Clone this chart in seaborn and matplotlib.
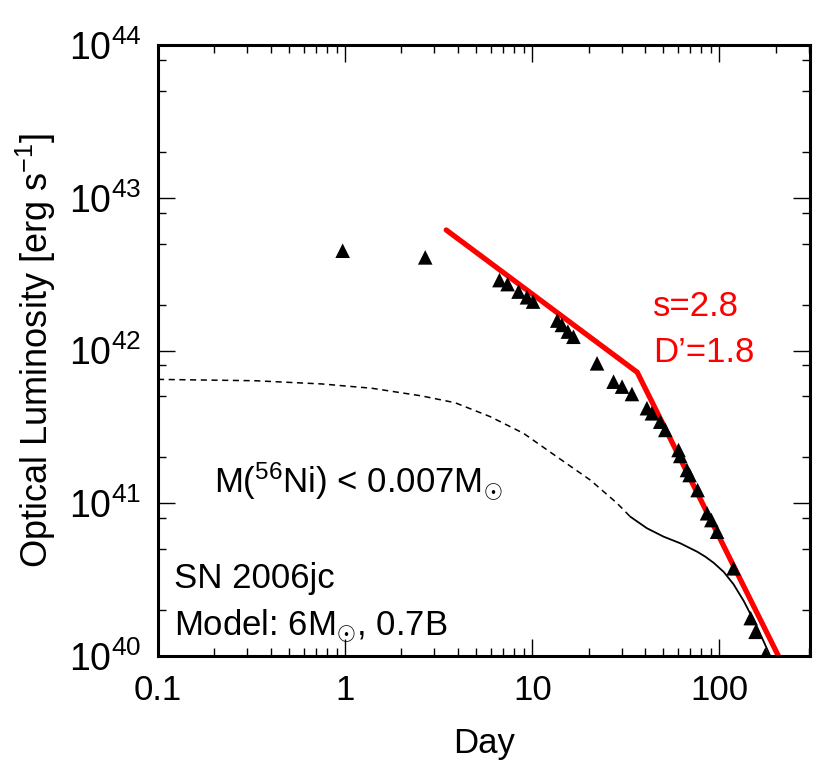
import matplotlib
matplotlib.use('Agg')
import matplotlib.pyplot as plt
from matplotlib.ticker import LogLocator, NullFormatter, FixedLocator, FixedFormatter
import seaborn as sns
import pandas as pd

# observed points (SN 2006jc)
obs_day = [0.97, 2.68, 6.68, 7.38, 8.45, 9.37, 10.1, 13.6, 14.4, 15.5, 16.6, 22.2,
           27.2, 30.2, 34.1, 41.0, 43.6, 48.3, 51.4, 60.5, 61.8, 67.1, 69.3, 76.5,
           85.9, 90.6, 97.2, 119, 147, 156, 176]
obs_lum = [4.5e42, 4.07e42, 2.89e42, 2.72e42, 2.43e42, 2.23e42, 2.09e42, 1.57e42,
           1.47e42, 1.33e42, 1.23e42, 8.24e41, 6.25e41, 5.8e41, 5.19e41, 4.19e41,
           3.88e41, 3.42e41, 3.02e41, 2.23e41, 2.04e41, 1.65e41, 1.53e41, 1.22e41,
           8.6e40, 7.76e40, 6.51e40, 3.75e40, 1.77e40, 1.44e40, 1.02e40]

# broken power-law fit (red)
fit_day = [3.47, 36.4, 230]
fit_lum = [6.15e42, 7.2e41, 7.7e39]

# 56Ni model light curve: dashed (upper limit part) and solid
model_day_dash = [0.1, 0.33, 0.75, 1.39, 2.57, 3.87, 5.96, 8.98, 13.5, 20.4, 28.4, 33.4]
model_lum_dash = [6.47e41, 6.34e41, 6.04e41, 5.66e41, 5.04e41, 4.55e41, 3.69e41,
                  2.87e41, 2.02e41, 1.42e41, 1.00e41, 8.17e40]
model_day_solid = [33.4, 41.0, 50.4, 61.8, 76.0, 84.1, 93.3, 105.5, 119, 135,
                   159, 187, 212]
model_lum_solid = [8.17e40, 6.86e40, 6.04e40, 5.47e40, 4.82e40, 4.47e40, 4.07e40,
                   3.55e40, 2.95e40, 2.29e40, 1.55e40, 1.0e40, 6.9e39]

xticks = [0.1, 1, 10, 100]
xticklabels = ['0.1', '1', '10', '100']

sns.set_theme(style='ticks')
plt.rcParams['font.family'] = ['Liberation Sans', 'DejaVu Sans']
plt.rcParams['mathtext.fontset'] = 'custom'
plt.rcParams['mathtext.rm'] = 'Liberation Sans'
plt.rcParams['mathtext.it'] = 'Liberation Sans:italic'
plt.rcParams['mathtext.bf'] = 'Liberation Sans:bold'
plt.rcParams['text.color'] = 'black'
plt.rcParams['axes.labelcolor'] = 'black'
plt.rcParams['xtick.color'] = 'black'
plt.rcParams['ytick.color'] = 'black'

fig = plt.figure(figsize=(8.3, 7.75), dpi=100)
ax = fig.add_axes([158 / 830, 1 - 656 / 775, (810 - 158) / 830, (656 - 45) / 775])

dash_df = pd.DataFrame({'day': model_day_dash, 'lum': model_lum_dash})
solid_df = pd.DataFrame({'day': model_day_solid, 'lum': model_lum_solid})
fit_df = pd.DataFrame({'day': fit_day, 'lum': fit_lum})
obs_df = pd.DataFrame({'day': obs_day, 'lum': obs_lum})

sns.lineplot(data=dash_df, x='day', y='lum', color='black', lw=1.1,
             linestyle=(0, (4, 3)), sort=False, ax=ax)
sns.lineplot(data=solid_df, x='day', y='lum', color='black', lw=1.3, sort=False, ax=ax)
sns.lineplot(data=fit_df, x='day', y='lum', color='#ff0000', lw=3.8, sort=False, ax=ax)
sns.scatterplot(data=obs_df, x='day', y='lum', marker='^', color='black',
                s=110, edgecolor='none', ax=ax, zorder=5)

ax.set_xscale('log')
ax.set_yscale('log')
ax.set_xlim(0.1, 305)
ax.set_ylim(1e40, 1e44)

ax.xaxis.set_major_locator(FixedLocator(xticks))
ax.xaxis.set_major_formatter(FixedFormatter(xticklabels))
ax.xaxis.set_minor_locator(LogLocator(base=10, subs=[2, 3, 4, 5, 6, 7, 8, 9], numticks=20))
ax.xaxis.set_minor_formatter(NullFormatter())
ax.yaxis.set_major_locator(LogLocator(base=10, numticks=10))
ax.yaxis.set_minor_locator(LogLocator(base=10, subs=[2, 5, 8], numticks=20))
ax.yaxis.set_minor_formatter(NullFormatter())

ax.tick_params(which='both', direction='in', top=True, right=True, colors='black')
ax.tick_params(which='major', length=12, width=1.0)
ax.tick_params(which='minor', length=6, width=1.0)
ax.tick_params(axis='x', which='major', pad=13, labelsize=25)
ax.tick_params(axis='y', which='major', pad=12, labelsize=27)
for sp in ax.spines.values():
    sp.set_linewidth(2.2)
    sp.set_color('black')

ax.set_xlabel('Day', fontsize=25, labelpad=14)
ax.set_ylabel(r'Optical Luminosity [erg s$^{-1}$]', fontsize=26, labelpad=8)

ax.text(653 / 830, 1 - 316 / 775, 's=2.8', transform=fig.transFigure, color='#ff0000',
        fontsize=25, va='baseline', ha='left')
ax.text(653 / 830, 1 - 362 / 775, 'D\u2019=1.8', transform=fig.transFigure, color='#ff0000',
        fontsize=25, va='baseline', ha='left')
ax.text(214 / 830, 1 - 492 / 775, r'M($^{56}$Ni) < 0.007M$_{\odot}$', transform=fig.transFigure,
        fontsize=25, va='baseline', ha='left')
ax.text(174 / 830, 1 - 588 / 775, 'SN 2006jc', transform=fig.transFigure,
        fontsize=25, va='baseline', ha='left')
ax.text(174 / 830, 1 - 635 / 775, r'Model: 6M$_{\odot}$, 0.7B', transform=fig.transFigure,
        fontsize=25, va='baseline', ha='left')

plt.savefig('out.png', dpi=100)
plt.close()
